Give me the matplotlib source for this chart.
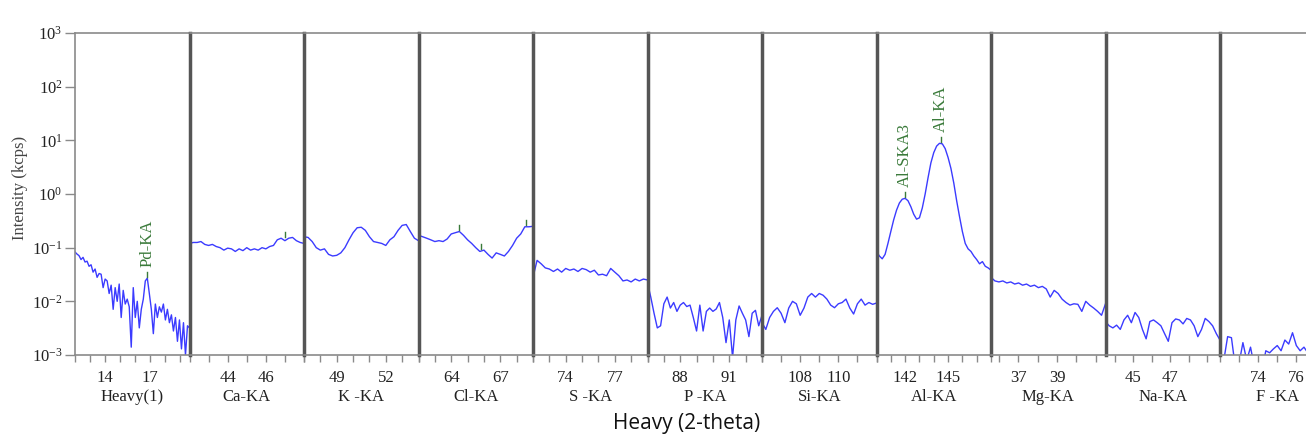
import numpy as np
import matplotlib
matplotlib.use("Agg")
import matplotlib.pyplot as plt
from matplotlib.ticker import NullLocator

# XRF scan, one panel per element line, intensity in kcps (log scale)
panel_names = ["Heavy(1)", "Ca-KA", "K -KA", "Cl-KA", "S -KA", "P -KA",
               "Si-KA", "Al-KA", "Mg-KA", "Na-KA", "F -KA"]
panel_ranges = [(12.0, 19.6), (42.0, 48.0), (47.0, 54.0), (62.0, 69.0),
                (72.0, 79.0), (86.0, 93.0), (106.0, 112.0), (140.0, 148.0),
                (35.6, 41.5), (43.5, 49.7), (72.0, 78.0)]
panel_labels = [[14, 17], [44, 46], [49, 52], [64, 67], [74, 77], [88, 91],
                [108, 110], [142, 145], [37, 39], [45, 47], [74, 76]]

heavy = [0.083, 0.076, 0.071, 0.060, 0.066, 0.054, 0.056, 0.045, 0.048, 0.035,
         0.040, 0.028, 0.033, 0.032, 0.018, 0.026, 0.024, 0.014, 0.020, 0.0071,
         0.018, 0.010, 0.021, 0.005, 0.016, 0.0089, 0.011, 0.0079, 0.0014, 0.018,
         0.005, 0.010, 0.0032, 0.0071, 0.011, 0.024, 0.027, 0.014, 0.0071, 0.0025,
         0.0089, 0.005, 0.0079, 0.0063, 0.0089, 0.0045, 0.0071, 0.004, 0.0056, 0.0028,
         0.005, 0.0018, 0.0045, 0.0013, 0.004, 0.001, 0.0035, 0.0032]
ca = [0.12, 0.125, 0.125, 0.13, 0.115, 0.11, 0.115, 0.105, 0.10, 0.09,
      0.098, 0.095, 0.085, 0.095, 0.088, 0.10, 0.09, 0.095, 0.09, 0.10,
      0.095, 0.105, 0.11, 0.14, 0.15, 0.135, 0.15, 0.155, 0.135, 0.125, 0.12]
k = [0.16, 0.155, 0.13, 0.10, 0.09, 0.095, 0.075, 0.07, 0.072, 0.08,
     0.10, 0.14, 0.19, 0.235, 0.24, 0.21, 0.16, 0.13, 0.125, 0.12,
     0.11, 0.14, 0.16, 0.21, 0.26, 0.27, 0.20, 0.15, 0.135]
cl = [0.17, 0.16, 0.15, 0.14, 0.13, 0.135, 0.13, 0.145, 0.18, 0.19,
      0.20, 0.17, 0.14, 0.12, 0.10, 0.085, 0.09, 0.075, 0.064, 0.08,
      0.075, 0.07, 0.085, 0.11, 0.15, 0.18, 0.245, 0.245, 0.25]
s = [0.028, 0.058, 0.05, 0.042, 0.04, 0.036, 0.04, 0.035, 0.041, 0.038,
     0.040, 0.036, 0.041, 0.039, 0.035, 0.038, 0.031, 0.032, 0.030, 0.041,
     0.035, 0.030, 0.024, 0.025, 0.023, 0.026, 0.024, 0.026, 0.025]
p = [0.022, 0.012, 0.006, 0.0032, 0.0035, 0.009, 0.012, 0.0075, 0.0095, 0.0065,
     0.0085, 0.0095, 0.008, 0.0085, 0.005, 0.0028, 0.0085, 0.0028, 0.0065, 0.0075,
     0.0065, 0.0072, 0.0095, 0.005, 0.0017, 0.0045, 0.0009, 0.0045, 0.0082, 0.006,
     0.0045, 0.0022, 0.006, 0.0068, 0.0035, 0.0055]
si = [0.004, 0.003, 0.005, 0.0065, 0.0076, 0.006, 0.004, 0.0075, 0.01, 0.009,
      0.0055, 0.0075, 0.012, 0.014, 0.012, 0.014, 0.013, 0.011, 0.0085, 0.0076,
      0.009, 0.0095, 0.011, 0.0075, 0.0058, 0.009, 0.011, 0.0085, 0.0095, 0.0088, 0.0093]
al = [0.085, 0.07, 0.062, 0.075, 0.12, 0.2, 0.33, 0.5, 0.68, 0.8,
      0.83, 0.75, 0.58, 0.42, 0.34, 0.36, 0.55, 1.0, 2.0, 3.8,
      5.9, 7.8, 8.8, 8.6, 7.0, 4.8, 3.0, 1.6, 0.75, 0.38,
      0.2, 0.12, 0.095, 0.085, 0.07, 0.06, 0.05, 0.055, 0.045, 0.042, 0.038]
mg = [0.028, 0.024, 0.023, 0.024, 0.022, 0.023, 0.021, 0.022, 0.020, 0.021,
      0.019, 0.020, 0.018, 0.019, 0.017, 0.012, 0.016, 0.014, 0.011, 0.0095,
      0.0085, 0.009, 0.0088, 0.0065, 0.01, 0.0085, 0.0075, 0.0065, 0.0055, 0.009]
na = [0.0042, 0.0035, 0.0032, 0.0036, 0.0030, 0.0045, 0.0055, 0.0040, 0.0062, 0.0050,
      0.0030, 0.0020, 0.0042, 0.0045, 0.0040, 0.0035, 0.0025, 0.0018, 0.0040, 0.0047,
      0.0045, 0.0038, 0.0048, 0.0045, 0.0035, 0.0022, 0.0030, 0.0048, 0.0042, 0.0035,
      0.0025, 0.0019]
f = [0.0006, 0.0008, 0.0022, 0.0021, 0.0006, 0.0007, 0.0017, 0.0008, 0.0014, 0.0006,
     0.0007, 0.0005, 0.0012, 0.0011, 0.0013, 0.0015, 0.0012, 0.0019, 0.0016, 0.0026,
     0.0015, 0.0012, 0.0014, 0.0011, 0.0012, 0.001, 0.0009, 0.0012, 0.001, 0.0008, 0.001]
spectra = [heavy, ca, k, cl, s, p, si, al, mg, na, f]

# identified peaks: (panel, 2-theta, intensity, name)
peaks = [(0, 16.8, 0.027, "Pd-KA"),
         (1, 47.0, 0.15, ""),
         (3, 64.5, 0.20, ""), (3, 65.8, 0.088, ""), (3, 68.6, 0.245, ""),
         (7, 142.0, 0.83, "Al-SKA3"),
         (7, 144.5, 8.9, "Al-KA")]

serif = "Liberation Serif"
line_col = "#3b3bff"
peak_col = "#3a7a3a"
axis_col = "#8a8a8a"
sep_col = "#555555"

W, H = 1306, 437
fig = plt.figure(figsize=(W / 100, H / 100), dpi=100)

x0, pw = 75, 114.5
bottom, top = 355, 33

axes = []
for i, name in enumerate(panel_names):
    ax = fig.add_axes([(x0 + i * pw) / W, (H - bottom) / H, pw / W, (bottom - top) / H])
    axes.append(ax)
    xmin, xmax = panel_ranges[i]
    xs = np.linspace(xmin, xmax, len(spectra[i]))
    ax.plot(xs, spectra[i], color=line_col, lw=1.0)
    ax.set_yscale("log")
    ax.set_ylim(1e-3, 1e3)
    ax.set_xlim(xmin, xmax)

    ticks = np.arange(np.ceil(xmin), np.floor(xmax) + 1)
    ax.set_xticks(ticks)
    ax.set_xticklabels([str(int(t)) if int(t) in panel_labels[i] else "" for t in ticks],
                       fontfamily=serif, fontsize=12, color="#222222")
    ax.tick_params(axis="x", length=5, width=1, color=axis_col, pad=6)
    ax.set_xlabel(name, fontfamily=serif, fontsize=12, color="#222222", labelpad=2)

    ax.spines["right"].set_visible(False)
    for sp in ("top", "bottom"):
        ax.spines[sp].set_color(axis_col)
        ax.spines[sp].set_linewidth(1.2)
    if i == 0:
        ax.spines["left"].set_color(axis_col)
        ax.spines["left"].set_linewidth(1.2)
        exps = range(-3, 4)
        ax.set_yticks([10.0 ** e for e in exps])
        ax.set_yticklabels([r"$\mathregular{10^{%d}}$" % e for e in exps],
                           fontfamily=serif, fontsize=12, color="#222222")
        ax.tick_params(axis="y", length=7, width=1, color=axis_col, pad=2)
    else:
        ax.spines["left"].set_color(sep_col)
        ax.spines["left"].set_linewidth(2.5)
        ax.set_yticks([])
    ax.yaxis.set_minor_locator(NullLocator())
    ax.xaxis.set_minor_locator(NullLocator())
    ax.set_facecolor("none")

# peak markers and names
for i, x, y, label in peaks:
    ax = axes[i]
    ax.plot([x, x], [y * 1.06, y * 1.32], color=peak_col, lw=1.0)
    if label:
        ax.text(x, y * 1.6, label, rotation=90, ha="center", va="bottom",
                fontfamily=serif, fontsize=12, color=peak_col)

fig.text(20 / W, 1 - 188 / H, "Intensity (kcps)", rotation=90, ha="center", va="center",
         fontfamily=serif, fontsize=12, color="#444444")
fig.text(687 / W, 1 - 424 / H, "Heavy (2-theta)", ha="center", va="center",
         fontfamily="Open Sans", fontsize=15, color="#111111")

fig.savefig("out.png", dpi=100)
